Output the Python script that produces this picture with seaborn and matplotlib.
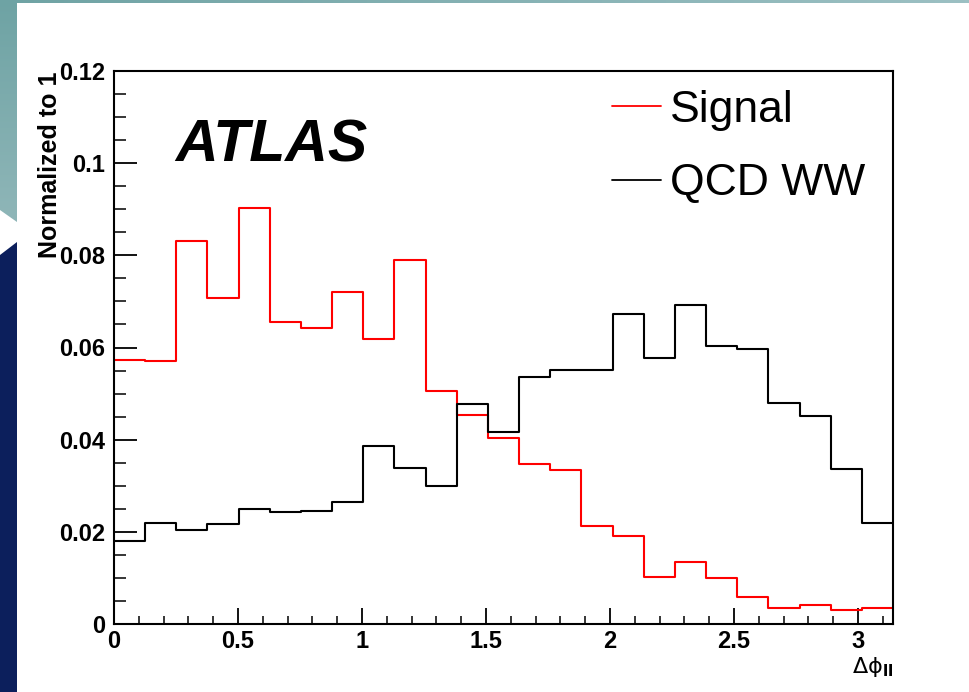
import numpy as np
import pandas as pd
import matplotlib
matplotlib.use("Agg")
import matplotlib.pyplot as plt
import seaborn as sns
from matplotlib.patches import Polygon
from matplotlib.ticker import MultipleLocator
from matplotlib.colors import LinearSegmentedColormap
from matplotlib.lines import Line2D

# ---------------- data ----------------
n_bins = 25
x_min, x_max = 0.0, np.pi
signal = [0.0573, 0.0571, 0.0831, 0.0708, 0.0903, 0.0655, 0.0642, 0.0720, 0.0618,
          0.0789, 0.0506, 0.0454, 0.0404, 0.0348, 0.0334, 0.0213, 0.0191, 0.0103,
          0.0135, 0.0100, 0.0058, 0.0034, 0.0041, 0.0031, 0.0035]
qcd_ww = [0.0181, 0.0219, 0.0203, 0.0216, 0.0250, 0.0242, 0.0246, 0.0264, 0.0386,
          0.0339, 0.0300, 0.0477, 0.0417, 0.0536, 0.0551, 0.0551, 0.0673, 0.0577,
          0.0692, 0.0603, 0.0596, 0.0480, 0.0451, 0.0336, 0.0219]
series_names = ["Signal", "QCD WW"]
series_colors = ["#ff0000", "#000000"]
x_ticks = [0, 0.5, 1, 1.5, 2, 2.5, 3]
x_tick_labels = ["0", "0.5", "1", "1.5", "2", "2.5", "3"]
y_ticks = [0, 0.02, 0.04, 0.06, 0.08, 0.1, 0.12]
y_tick_labels = ["0", "0.02", "0.04", "0.06", "0.08", "0.1", "0.12"]

edges = list(np.linspace(x_min, x_max, n_bins + 1))
centers = [0.5 * (edges[i] + edges[i + 1]) for i in range(n_bins)]

# ---------------- figure ----------------
sns.set_theme(style="white")
plt.rcParams["font.family"] = ["Liberation Sans", "DejaVu Sans"]
plt.rcParams["mathtext.fontset"] = "dejavusans"

W, H = 969, 692
fig = plt.figure(figsize=(W / 100, H / 100), dpi=100)
fig.patch.set_facecolor("white")

# slide background decoration
bg = fig.add_axes([0, 0, 1, 1], zorder=-10)
bg.set_xlim(0, W)
bg.set_ylim(H, 0)
bg.axis("off")
grad = np.linspace(0, 1, 256)[None, :]
cmap = LinearSegmentedColormap.from_list("tb", ["#6fa3a4", "#9cc0c3"])
bg.imshow(grad, cmap=cmap, extent=(0, W, 3.5, 0), aspect="auto")
teal_poly = Polygon([[0, 0], [17, 0], [17, 222], [0, 210]], closed=True,
                    facecolor="none", edgecolor="none")
bg.add_patch(teal_poly)
vgrad = np.linspace(0, 1, 256)[:, None]
cmap_v = LinearSegmentedColormap.from_list("tv", ["#6ea3a4", "#8fb6b8"])
im = bg.imshow(vgrad, cmap=cmap_v, extent=(0, 17, 222, 0), aspect="auto")
im.set_clip_path(teal_poly)
bg.add_patch(Polygon([[0, 255], [17, 242], [17, H], [0, H]], closed=True,
                     facecolor="#0c1f5c", edgecolor="none"))
bg.set_xlim(0, W)
bg.set_ylim(H, 0)

ax = fig.add_axes([114 / W, (H - 624) / H, (893 - 114) / W, (624 - 71) / H])
ax.set_facecolor("white")

for name, vals, col in zip(series_names, [signal, qcd_ww], series_colors):
    d = pd.DataFrame({"x": centers, "w": vals})
    sns.histplot(data=d, x="x", weights="w", bins=edges,
                 element="step", fill=False, stat="count",
                 color=col, linewidth=1.5, ax=ax)

ax.set_xlim(x_min, x_max)
ax.set_ylim(0, 0.12)

for s in ax.spines.values():
    s.set_visible(True)
    s.set_color("black")
    s.set_linewidth(1.5)

ax.set_xticks(x_ticks)
ax.set_xticklabels(x_tick_labels)
ax.set_yticks(y_ticks)
ax.set_yticklabels(y_tick_labels)
ax.xaxis.set_minor_locator(MultipleLocator(0.1))
ax.yaxis.set_minor_locator(MultipleLocator(0.005))

ax.tick_params(axis="x", which="major", direction="in", length=11.5, width=1.3,
               pad=4, bottom=True, top=False, labelsize=17, colors="black")
ax.tick_params(axis="x", which="minor", direction="in", length=5.8, width=1.1,
               bottom=True, top=False, colors="black")
ax.tick_params(axis="y", which="major", direction="in", length=16.5, width=1.3,
               pad=6.5, left=True, right=False, labelsize=17, colors="black")
ax.tick_params(axis="y", which="minor", direction="in", length=8.6, width=1.1,
               left=True, right=False, colors="black")
for lab in ax.get_xticklabels() + ax.get_yticklabels():
    lab.set_fontweight("bold")

ax.set_ylabel("Normalized to 1", loc="top", fontsize=18, fontweight="bold",
              color="black")
ax.yaxis.set_label_coords(-0.0665, 1.0)
ax.set_xlabel(r"$\mathrm{\Delta\phi}_{\mathbf{ll}}$", loc="right", fontsize=16,
              color="black")
ax.xaxis.set_label_coords(1.0, -0.056)

fig.text(175 / W, (H - 162) / H, "ATLAS", fontsize=42.5, fontweight="bold",
         fontstyle="italic", color="black", va="baseline", ha="left")

handles = [Line2D([], [], color=c, lw=1.3) for c in series_colors]
leg = ax.legend(handles, series_names, loc="upper left",
                bbox_to_anchor=(612 / W, (H - 90) / H),
                bbox_transform=fig.transFigure, frameon=False, fontsize=32,
                handlelength=1.1, handletextpad=0.2, labelspacing=0.73,
                borderpad=0, borderaxespad=0)
for t in leg.get_texts():
    t.set_color("black")

fig.savefig("out.png", dpi=100, facecolor="white")
